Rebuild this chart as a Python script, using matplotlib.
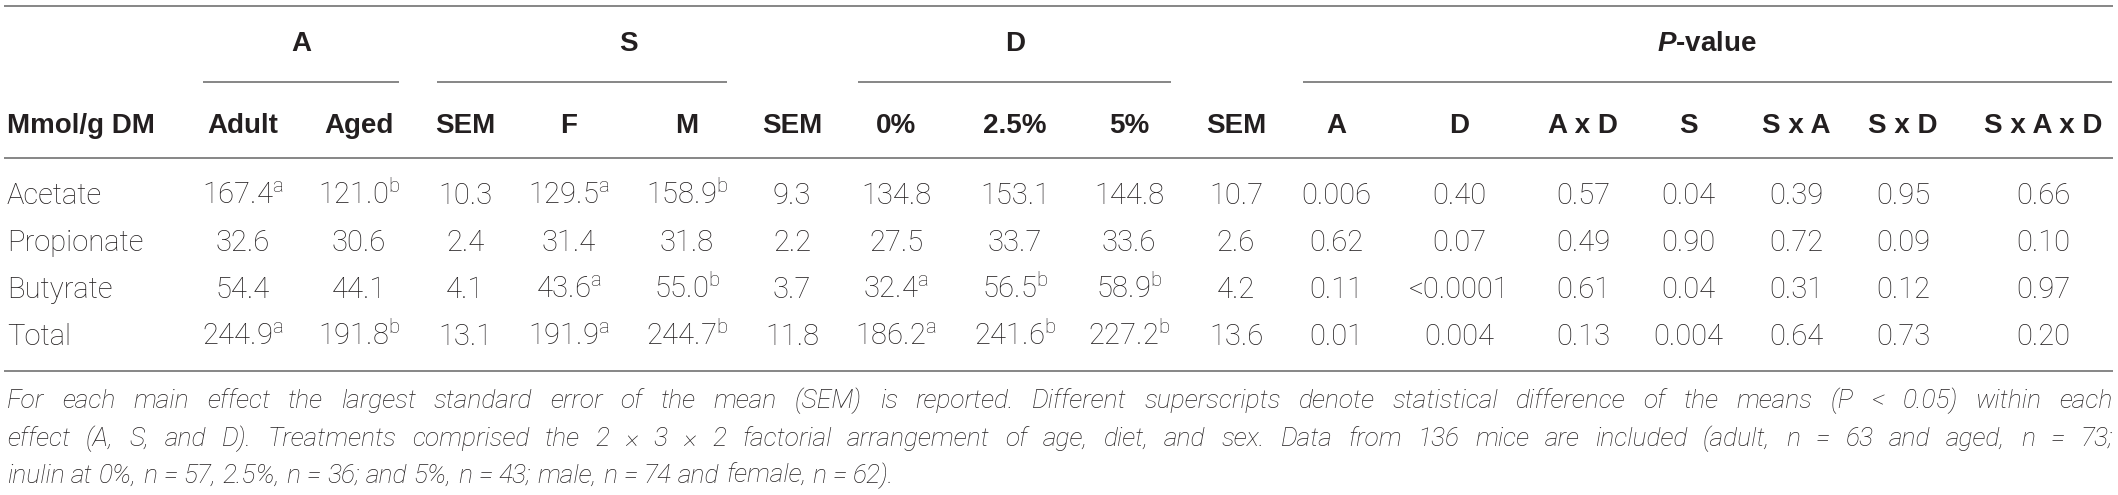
import matplotlib
matplotlib.use('Agg')
import matplotlib.pyplot as plt
from matplotlib.font_manager import FontProperties

# 表格数据
row_names = ['Acetate', 'Propionate', 'Butyrate', 'Total']
adult = ['167.4^a', '32.6', '54.4', '244.9^a']
aged = ['121.0^b', '30.6', '44.1', '191.8^b']
sem_a = ['10.3', '2.4', '4.1', '13.1']
female = ['129.5^a', '31.4', '43.6^a', '191.9^a']
male = ['158.9^b', '31.8', '55.0^b', '244.7^b']
sem_s = ['9.3', '2.2', '3.7', '11.8']
diet_0 = ['134.8', '27.5', '32.4^a', '186.2^a']
diet_25 = ['153.1', '33.7', '56.5^b', '241.6^b']
diet_5 = ['144.8', '33.6', '58.9^b', '227.2^b']
sem_d = ['10.7', '2.6', '4.2', '13.6']
p_a = ['0.006', '0.62', '0.11', '0.01']
p_d = ['0.40', '0.07', '<0.0001', '0.004']
p_ad = ['0.57', '0.49', '0.61', '0.13']
p_s = ['0.04', '0.90', '0.04', '0.004']
p_sa = ['0.39', '0.72', '0.31', '0.64']
p_sd = ['0.95', '0.09', '0.12', '0.73']
p_sad = ['0.66', '0.10', '0.97', '0.20']

stub_label = 'Mmol/g DM'
col_labels = ['Adult', 'Aged', 'SEM', 'F', 'M', 'SEM', '0%', '2.5%', '5%', 'SEM',
              'A', 'D', 'A x D', 'S', 'S x A', 'S x D', 'S x A x D']
group_labels = ['A', 'S', 'D', r'$\mathbfit{P}$-value']

footnote = [
    'For each main effect the largest standard error of the mean (SEM) is reported. '
    'Different superscripts denote statistical difference of the means (P < 0.05) within each',
    'effect (A, S, and D). Treatments comprised the 2 \u00d7 3 \u00d7 2 factorial arrangement of age, '
    'diet, and sex. Data from 136 mice are included (adult, n = 63 and aged, n = 73;',
    'inulin at 0%, n = 57, 2.5%, n = 36; and 5%, n = 43; male, n = 74 and female, n = 62).',
]

columns = [adult, aged, sem_a, female, male, sem_s, diet_0, diet_25, diet_5, sem_d,
           p_a, p_d, p_ad, p_s, p_sa, p_sd, p_sad]

# 版式（像素坐标）
W, H = 2118, 495
col_x = [243, 359, 465, 569, 687, 792, 896, 1015, 1129, 1236,
         1336, 1459, 1583, 1688, 1796, 1903, 2043]
group_span = [(203, 399), (437, 727), (858, 1171), (1303, 2112)]
group_label_x = [301, 628, 1015, 1707]
row_base = [204, 251, 298, 345]
foot_base = [408, 446, 483]
left, right = 7, 2113

ink = '#231f20'
rule_col = '#7d7d7d'

plt.rcParams['mathtext.fontset'] = 'custom'
plt.rcParams['mathtext.rm'] = 'Roboto:light'
plt.rcParams['mathtext.bfit'] = 'Liberation Sans:italic:bold'

body_fp = FontProperties(family='Roboto', weight='light', size=21)
head_fp = FontProperties(family='Liberation Sans', weight='bold', size=20)
foot_fp = FontProperties(family='Roboto', weight='light', style='italic', size=19)

fig = plt.figure(figsize=(W / 100, H / 100), dpi=100)
ax = fig.add_axes([0, 0, 1, 1])
ax.set_xlim(0, W)
ax.set_ylim(H, 0)
ax.axis('off')


def cell(s):
    # 上标字母 -> mathtext
    if '^' in s:
        num, sup = s.split('^')
        return num + r'$^{\rm ' + sup + '}$'
    return s


# 横线
ax.plot([left - 3, right], [5.5, 5.5], color=rule_col, lw=1.3, solid_capstyle='butt')
ax.plot([left - 3, right], [158, 158], color=rule_col, lw=1.3, solid_capstyle='butt')
ax.plot([left - 3, right], [371, 371], color=rule_col, lw=1.3, solid_capstyle='butt')
for (x0, x1) in group_span:
    ax.plot([x0, x1], [82, 82], color=rule_col, lw=1.3, solid_capstyle='butt')

# 分组标题
for lab, gx in zip(group_labels, group_label_x):
    ax.text(gx, 51, lab, fontproperties=head_fp, ha='center', va='baseline', color=ink)

# 列标题
ax.text(left, 133, stub_label, fontproperties=head_fp, ha='left', va='baseline', color=ink)
for lab, cx in zip(col_labels, col_x):
    ax.text(cx, 133, lab, fontproperties=head_fp, ha='center', va='baseline', color=ink)

# 数据
for i, name in enumerate(row_names):
    ax.text(left, row_base[i], name, fontproperties=body_fp, ha='left', va='baseline', color=ink)
    for col, cx in zip(columns, col_x):
        ax.text(cx, row_base[i], cell(col[i]), fontproperties=body_fp,
                ha='center', va='baseline', color=ink)

# 脚注（两端对齐）
renderer = fig.canvas.get_renderer()
probe1 = ax.text(0, 0, 'a a', fontproperties=foot_fp)
probe2 = ax.text(0, 0, 'aa', fontproperties=foot_fp)
space_w = probe1.get_window_extent(renderer).width - probe2.get_window_extent(renderer).width
probe1.remove()
probe2.remove()

for k, line in enumerate(footnote):
    words = line.split(' ')
    texts = [ax.text(0, foot_base[k], w, fontproperties=foot_fp, ha='left',
                     va='baseline', color=ink) for w in words]
    widths = [t.get_window_extent(renderer).width for t in texts]
    if k < len(footnote) - 1:
        gap = (right - left - sum(widths)) / (len(words) - 1)
    else:
        gap = space_w
    x = left
    for t, w in zip(texts, widths):
        t.set_x(x)
        x += w + gap

fig.savefig('out.png', dpi=100)
